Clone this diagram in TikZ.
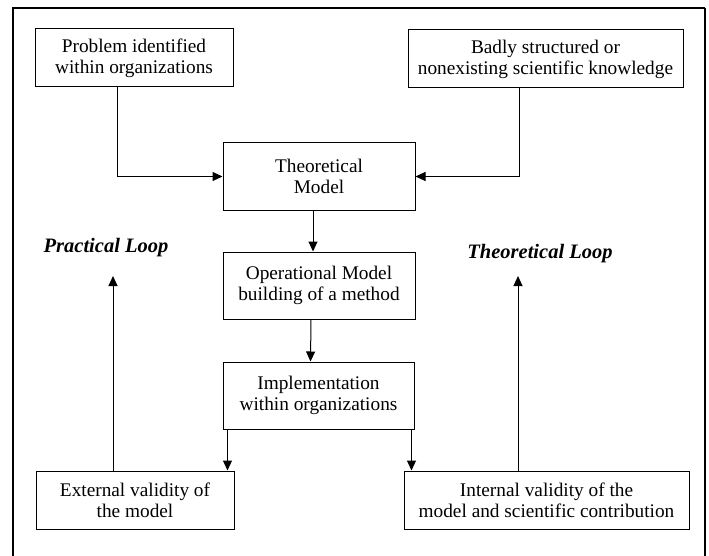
\documentclass[tikz,border=0pt]{standalone}
\usepackage{fontspec}
\setmainfont{Liberation Serif}
\usetikzlibrary{arrows.meta}
\tikzset{
  stepbox/.style={draw, line width=1pt, rectangle, align=center, inner sep=0pt,
    font=\fontsize{19.3}{21}\selectfont},
  arr/.style={line width=1pt, -{Triangle[length=10pt,width=9pt]}},
  looplabel/.style={font=\fontsize{20.5}{22}\selectfont\bfseries\itshape},
}
\begin{document}
\begin{tikzpicture}[x=1pt,y=-1pt]
  \useasboundingbox (0,0) rectangle (709,556);
  % open frame round the whole chart
  \draw[line width=2pt] (13,557) -- (13,8) -- (705,8);
  \draw[line width=1.3pt] (705,8) -- (705,557);

  \node[stepbox, minimum width=198pt, minimum height=58pt] (prob) at (134,58)
    {Problem identified\\within organizations};
  \node[stepbox, minimum width=275pt, minimum height=58pt] (bad) at (545.5,59)
    {Badly structured or\\nonexisting scientific knowledge};
  \node[stepbox, minimum width=192pt, minimum height=67pt] (theo) at (319,176.5)
    {Theoretical\\Model};
  \node[stepbox, minimum width=192pt, minimum height=67pt] (oper) at (319,285.5)
    {Operational Model\\building of a method};
  \node[stepbox, minimum width=191pt, minimum height=67pt] (impl) at (318.5,395.5)
    {Implementation\\within organizations};
  \node[stepbox, minimum width=198pt, minimum height=58pt] (ext) at (135,500)
    {External validity of\\the model};
  \node[stepbox, minimum width=285pt, minimum height=58pt] (int) at (546.5,500)
    {Internal validity of the\\model and scientific contribution};

  \node[looplabel] (ploop) at (106,248) {Practical Loop};
  \node[looplabel] (tloop) at (540,254) {Theoretical Loop};

  % inputs to the theoretical model
  \draw[arr] ([xshift=-17pt]prob.south) |- (theo.west);
  \draw[arr] ([xshift=-26.5pt]bad.south) |- (theo.east);

  % main chain
  \draw[arr] ([xshift=-6pt]theo.south) -- ([xshift=-6pt]oper.north);
  \draw[arr] ([xshift=-8pt]oper.south) -- ([xshift=-8pt]impl.north);
  \draw[arr] ([xshift=5pt]impl.south west) -- ([xshift=5pt]impl.south west |- ext.north);
  \draw[arr] ([xshift=-3pt]impl.south east) -- ([xshift=-3pt]impl.south east |- int.north);

  % feedback loops
  \coordinate (ptop) at (113,276);
  \coordinate (ttop) at (518,276);
  \draw[arr] (ext.north -| ptop) -- (ptop);
  \draw[arr] (int.north -| ttop) -- (ttop);
\end{tikzpicture}
\end{document}
